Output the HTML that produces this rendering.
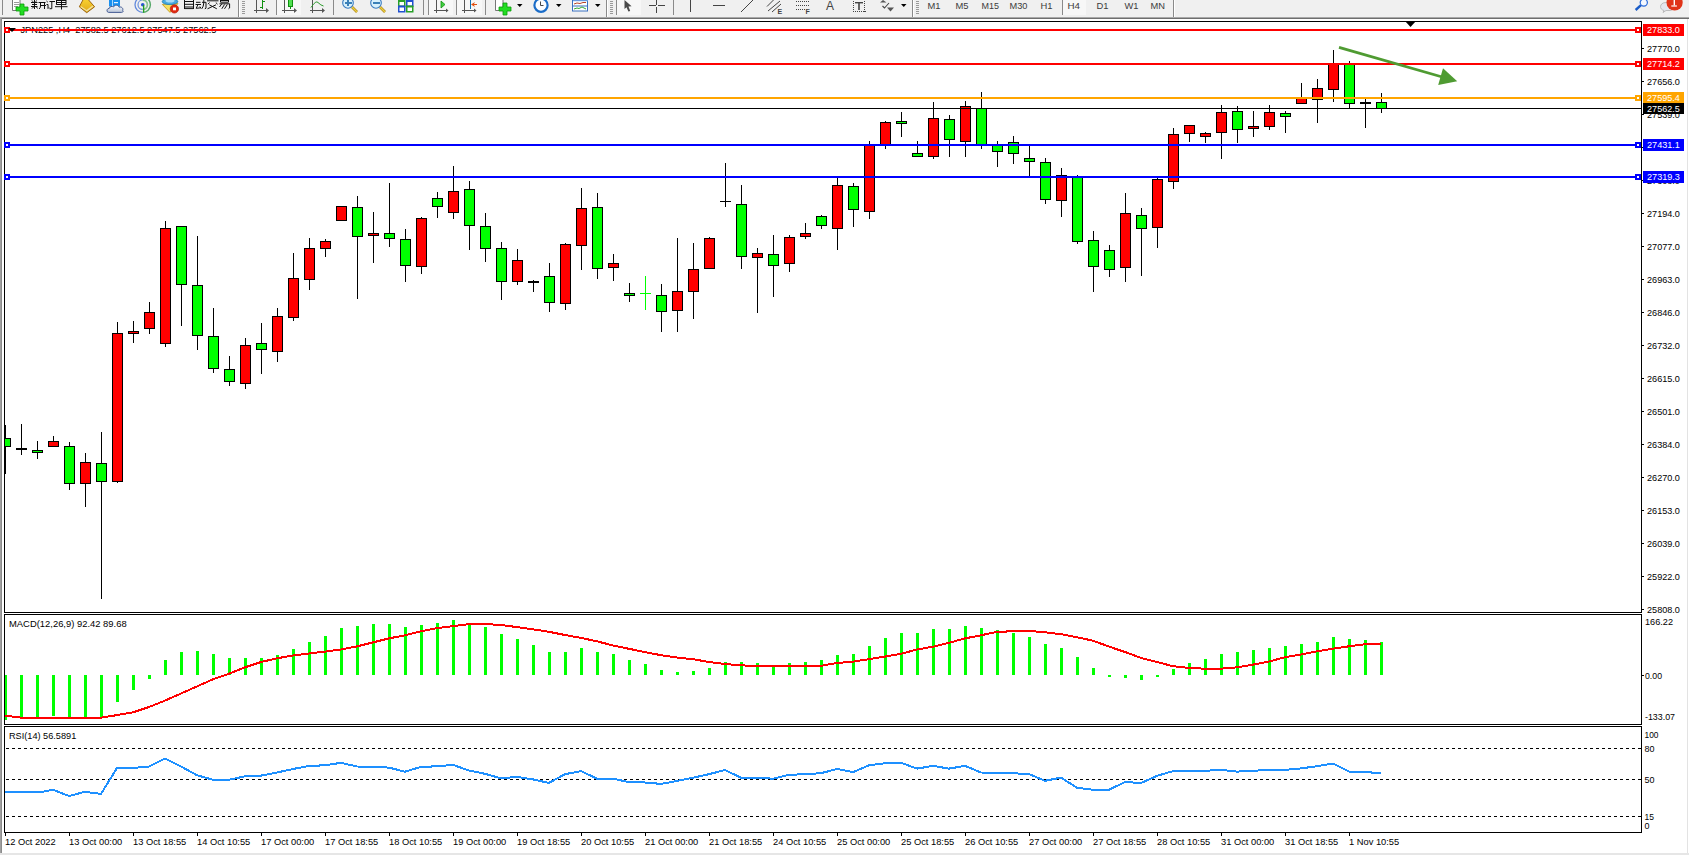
<!DOCTYPE html>
<html><head><meta charset="utf-8"><style>
html,body{margin:0;padding:0;background:#fff;overflow:hidden;width:1689px;height:855px}
svg{display:block}
</style></head><body>
<svg width="1689" height="855" viewBox="0 0 1689 855">
<rect x="0" y="0" width="1689" height="855" fill="#ffffff" />
<rect x="0" y="0" width="1689" height="17" fill="#f0f0f0" />
<rect x="0" y="17" width="1689" height="1" fill="#a8a8a8" />
<rect x="0" y="18" width="1689" height="1" fill="#6e6e6e" />
<rect x="0" y="18" width="1" height="837" fill="#a0a0a0" />
<rect x="1" y="18" width="1" height="837" fill="#8c8c8c" />
<rect x="1687" y="19" width="1" height="836" fill="#e3e3e3" />
<rect x="0" y="853" width="1689" height="2" fill="#e6e6e6" />
<rect x="4.5" y="21.5" width="1637" height="591" fill="none" stroke="#000" stroke-width="1"/>
<rect x="4.5" y="614.5" width="1637" height="110" fill="none" stroke="#000" stroke-width="1"/>
<rect x="4.5" y="726.5" width="1637" height="106" fill="none" stroke="#000" stroke-width="1"/>
<defs><clipPath id="cm"><rect x="5" y="22" width="1636" height="590"/></clipPath><clipPath id="cd"><rect x="5" y="615" width="1636" height="109"/></clipPath><clipPath id="cr"><rect x="5" y="727" width="1636" height="105"/></clipPath></defs>
<g clip-path="url(#cm)" shape-rendering="crispEdges">
<rect x="5" y="425" width="1" height="49" fill="#000"/><rect x="0" y="438" width="11" height="9" fill="#000"/><rect x="1" y="439" width="9" height="7" fill="#00ff00"/>
<rect x="21" y="424" width="1" height="31" fill="#000"/><rect x="16" y="448" width="11" height="2" fill="#000"/>
<rect x="37" y="441" width="1" height="18" fill="#000"/><rect x="32" y="450" width="11" height="3" fill="#000"/><rect x="33" y="451" width="9" height="1" fill="#00ff00"/>
<rect x="53" y="436" width="1" height="11" fill="#000"/><rect x="48" y="441" width="11" height="6" fill="#000"/><rect x="49" y="442" width="9" height="4" fill="#ff0000"/>
<rect x="69" y="442" width="1" height="48" fill="#000"/><rect x="64" y="446" width="11" height="38" fill="#000"/><rect x="65" y="447" width="9" height="36" fill="#00ff00"/>
<rect x="85" y="453" width="1" height="54" fill="#000"/><rect x="80" y="462" width="11" height="22" fill="#000"/><rect x="81" y="463" width="9" height="20" fill="#ff0000"/>
<rect x="101" y="432" width="1" height="167" fill="#000"/><rect x="96" y="463" width="11" height="19" fill="#000"/><rect x="97" y="464" width="9" height="17" fill="#00ff00"/>
<rect x="117" y="322" width="1" height="161" fill="#000"/><rect x="112" y="333" width="11" height="149" fill="#000"/><rect x="113" y="334" width="9" height="147" fill="#ff0000"/>
<rect x="133" y="321" width="1" height="22" fill="#000"/><rect x="128" y="331" width="11" height="3" fill="#000"/><rect x="129" y="332" width="9" height="1" fill="#ff0000"/>
<rect x="149" y="302" width="1" height="32" fill="#000"/><rect x="144" y="312" width="11" height="17" fill="#000"/><rect x="145" y="313" width="9" height="15" fill="#ff0000"/>
<rect x="165" y="221" width="1" height="126" fill="#000"/><rect x="160" y="228" width="11" height="116" fill="#000"/><rect x="161" y="229" width="9" height="114" fill="#ff0000"/>
<rect x="181" y="226" width="1" height="100" fill="#000"/><rect x="176" y="226" width="11" height="59" fill="#000"/><rect x="177" y="227" width="9" height="57" fill="#00ff00"/>
<rect x="197" y="236" width="1" height="114" fill="#000"/><rect x="192" y="285" width="11" height="51" fill="#000"/><rect x="193" y="286" width="9" height="49" fill="#00ff00"/>
<rect x="213" y="308" width="1" height="65" fill="#000"/><rect x="208" y="336" width="11" height="33" fill="#000"/><rect x="209" y="337" width="9" height="31" fill="#00ff00"/>
<rect x="229" y="356" width="1" height="30" fill="#000"/><rect x="224" y="369" width="11" height="13" fill="#000"/><rect x="225" y="370" width="9" height="11" fill="#00ff00"/>
<rect x="245" y="338" width="1" height="51" fill="#000"/><rect x="240" y="345" width="11" height="39" fill="#000"/><rect x="241" y="346" width="9" height="37" fill="#ff0000"/>
<rect x="261" y="323" width="1" height="51" fill="#000"/><rect x="256" y="343" width="11" height="7" fill="#000"/><rect x="257" y="344" width="9" height="5" fill="#00ff00"/>
<rect x="277" y="308" width="1" height="54" fill="#000"/><rect x="272" y="316" width="11" height="36" fill="#000"/><rect x="273" y="317" width="9" height="34" fill="#ff0000"/>
<rect x="293" y="253" width="1" height="68" fill="#000"/><rect x="288" y="278" width="11" height="40" fill="#000"/><rect x="289" y="279" width="9" height="38" fill="#ff0000"/>
<rect x="309" y="238" width="1" height="52" fill="#000"/><rect x="304" y="248" width="11" height="32" fill="#000"/><rect x="305" y="249" width="9" height="30" fill="#ff0000"/>
<rect x="325" y="239" width="1" height="18" fill="#000"/><rect x="320" y="241" width="11" height="8" fill="#000"/><rect x="321" y="242" width="9" height="6" fill="#ff0000"/>
<rect x="341" y="206" width="1" height="15" fill="#000"/><rect x="336" y="206" width="11" height="15" fill="#000"/><rect x="337" y="207" width="9" height="13" fill="#ff0000"/>
<rect x="357" y="196" width="1" height="103" fill="#000"/><rect x="352" y="207" width="11" height="30" fill="#000"/><rect x="353" y="208" width="9" height="28" fill="#00ff00"/>
<rect x="373" y="212" width="1" height="51" fill="#000"/><rect x="368" y="233" width="11" height="3" fill="#000"/><rect x="369" y="234" width="9" height="1" fill="#ff0000"/>
<rect x="389" y="183" width="1" height="64" fill="#000"/><rect x="384" y="233" width="11" height="6" fill="#000"/><rect x="385" y="234" width="9" height="4" fill="#00ff00"/>
<rect x="405" y="229" width="1" height="53" fill="#000"/><rect x="400" y="239" width="11" height="27" fill="#000"/><rect x="401" y="240" width="9" height="25" fill="#00ff00"/>
<rect x="421" y="217" width="1" height="57" fill="#000"/><rect x="416" y="218" width="11" height="49" fill="#000"/><rect x="417" y="219" width="9" height="47" fill="#ff0000"/>
<rect x="437" y="192" width="1" height="26" fill="#000"/><rect x="432" y="198" width="11" height="9" fill="#000"/><rect x="433" y="199" width="9" height="7" fill="#00ff00"/>
<rect x="453" y="166" width="1" height="53" fill="#000"/><rect x="448" y="191" width="11" height="22" fill="#000"/><rect x="449" y="192" width="9" height="20" fill="#ff0000"/>
<rect x="469" y="181" width="1" height="69" fill="#000"/><rect x="464" y="189" width="11" height="37" fill="#000"/><rect x="465" y="190" width="9" height="35" fill="#00ff00"/>
<rect x="485" y="213" width="1" height="49" fill="#000"/><rect x="480" y="226" width="11" height="23" fill="#000"/><rect x="481" y="227" width="9" height="21" fill="#00ff00"/>
<rect x="501" y="242" width="1" height="58" fill="#000"/><rect x="496" y="248" width="11" height="34" fill="#000"/><rect x="497" y="249" width="9" height="32" fill="#00ff00"/>
<rect x="517" y="249" width="1" height="36" fill="#000"/><rect x="512" y="260" width="11" height="22" fill="#000"/><rect x="513" y="261" width="9" height="20" fill="#ff0000"/>
<rect x="533" y="280" width="1" height="12" fill="#000"/><rect x="528" y="281" width="11" height="2" fill="#000"/>
<rect x="549" y="263" width="1" height="49" fill="#000"/><rect x="544" y="276" width="11" height="27" fill="#000"/><rect x="545" y="277" width="9" height="25" fill="#00ff00"/>
<rect x="565" y="243" width="1" height="67" fill="#000"/><rect x="560" y="244" width="11" height="60" fill="#000"/><rect x="561" y="245" width="9" height="58" fill="#ff0000"/>
<rect x="581" y="188" width="1" height="82" fill="#000"/><rect x="576" y="208" width="11" height="38" fill="#000"/><rect x="577" y="209" width="9" height="36" fill="#ff0000"/>
<rect x="597" y="193" width="1" height="86" fill="#000"/><rect x="592" y="207" width="11" height="62" fill="#000"/><rect x="593" y="208" width="9" height="60" fill="#00ff00"/>
<rect x="613" y="254" width="1" height="27" fill="#000"/><rect x="608" y="263" width="11" height="5" fill="#000"/><rect x="609" y="264" width="9" height="3" fill="#ff0000"/>
<rect x="629" y="283" width="1" height="19" fill="#000"/><rect x="624" y="293" width="11" height="3" fill="#000"/><rect x="625" y="294" width="9" height="1" fill="#00ff00"/>
<rect x="645" y="276" width="1" height="34" fill="#00ff00"/><rect x="640" y="293" width="11" height="1" fill="#00ff00"/>
<rect x="661" y="284" width="1" height="48" fill="#000"/><rect x="656" y="295" width="11" height="17" fill="#000"/><rect x="657" y="296" width="9" height="15" fill="#00ff00"/>
<rect x="677" y="238" width="1" height="94" fill="#000"/><rect x="672" y="291" width="11" height="20" fill="#000"/><rect x="673" y="292" width="9" height="18" fill="#ff0000"/>
<rect x="693" y="243" width="1" height="76" fill="#000"/><rect x="688" y="269" width="11" height="23" fill="#000"/><rect x="689" y="270" width="9" height="21" fill="#ff0000"/>
<rect x="709" y="237" width="1" height="32" fill="#000"/><rect x="704" y="238" width="11" height="31" fill="#000"/><rect x="705" y="239" width="9" height="29" fill="#ff0000"/>
<rect x="725" y="163" width="1" height="44" fill="#000"/><rect x="720" y="201" width="11" height="1" fill="#000"/>
<rect x="741" y="185" width="1" height="84" fill="#000"/><rect x="736" y="204" width="11" height="53" fill="#000"/><rect x="737" y="205" width="9" height="51" fill="#00ff00"/>
<rect x="757" y="248" width="1" height="65" fill="#000"/><rect x="752" y="253" width="11" height="5" fill="#000"/><rect x="753" y="254" width="9" height="3" fill="#ff0000"/>
<rect x="773" y="235" width="1" height="62" fill="#000"/><rect x="768" y="254" width="11" height="12" fill="#000"/><rect x="769" y="255" width="9" height="10" fill="#00ff00"/>
<rect x="789" y="235" width="1" height="37" fill="#000"/><rect x="784" y="237" width="11" height="27" fill="#000"/><rect x="785" y="238" width="9" height="25" fill="#ff0000"/>
<rect x="805" y="223" width="1" height="16" fill="#000"/><rect x="800" y="233" width="11" height="4" fill="#000"/><rect x="801" y="234" width="9" height="2" fill="#ff0000"/>
<rect x="821" y="215" width="1" height="14" fill="#000"/><rect x="816" y="216" width="11" height="10" fill="#000"/><rect x="817" y="217" width="9" height="8" fill="#00ff00"/>
<rect x="837" y="177" width="1" height="73" fill="#000"/><rect x="832" y="185" width="11" height="44" fill="#000"/><rect x="833" y="186" width="9" height="42" fill="#ff0000"/>
<rect x="853" y="183" width="1" height="44" fill="#000"/><rect x="848" y="186" width="11" height="24" fill="#000"/><rect x="849" y="187" width="9" height="22" fill="#00ff00"/>
<rect x="869" y="141" width="1" height="78" fill="#000"/><rect x="864" y="145" width="11" height="67" fill="#000"/><rect x="865" y="146" width="9" height="65" fill="#ff0000"/>
<rect x="885" y="121" width="1" height="28" fill="#000"/><rect x="880" y="122" width="11" height="23" fill="#000"/><rect x="881" y="123" width="9" height="21" fill="#ff0000"/>
<rect x="901" y="112" width="1" height="25" fill="#000"/><rect x="896" y="121" width="11" height="3" fill="#000"/><rect x="897" y="122" width="9" height="1" fill="#00ff00"/>
<rect x="917" y="141" width="1" height="16" fill="#000"/><rect x="912" y="153" width="11" height="4" fill="#000"/><rect x="913" y="154" width="9" height="2" fill="#00ff00"/>
<rect x="933" y="102" width="1" height="57" fill="#000"/><rect x="928" y="118" width="11" height="39" fill="#000"/><rect x="929" y="119" width="9" height="37" fill="#ff0000"/>
<rect x="949" y="115" width="1" height="42" fill="#000"/><rect x="944" y="119" width="11" height="21" fill="#000"/><rect x="945" y="120" width="9" height="19" fill="#00ff00"/>
<rect x="965" y="101" width="1" height="56" fill="#000"/><rect x="960" y="106" width="11" height="36" fill="#000"/><rect x="961" y="107" width="9" height="34" fill="#ff0000"/>
<rect x="981" y="92" width="1" height="57" fill="#000"/><rect x="976" y="108" width="11" height="37" fill="#000"/><rect x="977" y="109" width="9" height="35" fill="#00ff00"/>
<rect x="997" y="141" width="1" height="26" fill="#000"/><rect x="992" y="145" width="11" height="7" fill="#000"/><rect x="993" y="146" width="9" height="5" fill="#00ff00"/>
<rect x="1013" y="136" width="1" height="28" fill="#000"/><rect x="1008" y="142" width="11" height="12" fill="#000"/><rect x="1009" y="143" width="9" height="10" fill="#00ff00"/>
<rect x="1029" y="145" width="1" height="31" fill="#000"/><rect x="1024" y="158" width="11" height="4" fill="#000"/><rect x="1025" y="159" width="9" height="2" fill="#00ff00"/>
<rect x="1045" y="158" width="1" height="46" fill="#000"/><rect x="1040" y="162" width="11" height="38" fill="#000"/><rect x="1041" y="163" width="9" height="36" fill="#00ff00"/>
<rect x="1061" y="168" width="1" height="49" fill="#000"/><rect x="1056" y="175" width="11" height="26" fill="#000"/><rect x="1057" y="176" width="9" height="24" fill="#ff0000"/>
<rect x="1077" y="175" width="1" height="69" fill="#000"/><rect x="1072" y="176" width="11" height="66" fill="#000"/><rect x="1073" y="177" width="9" height="64" fill="#00ff00"/>
<rect x="1093" y="231" width="1" height="61" fill="#000"/><rect x="1088" y="240" width="11" height="27" fill="#000"/><rect x="1089" y="241" width="9" height="25" fill="#00ff00"/>
<rect x="1109" y="245" width="1" height="32" fill="#000"/><rect x="1104" y="250" width="11" height="20" fill="#000"/><rect x="1105" y="251" width="9" height="18" fill="#00ff00"/>
<rect x="1125" y="193" width="1" height="89" fill="#000"/><rect x="1120" y="213" width="11" height="55" fill="#000"/><rect x="1121" y="214" width="9" height="53" fill="#ff0000"/>
<rect x="1141" y="208" width="1" height="68" fill="#000"/><rect x="1136" y="215" width="11" height="14" fill="#000"/><rect x="1137" y="216" width="9" height="12" fill="#00ff00"/>
<rect x="1157" y="178" width="1" height="70" fill="#000"/><rect x="1152" y="179" width="11" height="49" fill="#000"/><rect x="1153" y="180" width="9" height="47" fill="#ff0000"/>
<rect x="1173" y="128" width="1" height="61" fill="#000"/><rect x="1168" y="134" width="11" height="48" fill="#000"/><rect x="1169" y="135" width="9" height="46" fill="#ff0000"/>
<rect x="1189" y="125" width="1" height="17" fill="#000"/><rect x="1184" y="125" width="11" height="9" fill="#000"/><rect x="1185" y="126" width="9" height="7" fill="#ff0000"/>
<rect x="1205" y="132" width="1" height="11" fill="#000"/><rect x="1200" y="133" width="11" height="4" fill="#000"/><rect x="1201" y="134" width="9" height="2" fill="#ff0000"/>
<rect x="1221" y="105" width="1" height="54" fill="#000"/><rect x="1216" y="112" width="11" height="21" fill="#000"/><rect x="1217" y="113" width="9" height="19" fill="#ff0000"/>
<rect x="1237" y="106" width="1" height="37" fill="#000"/><rect x="1232" y="111" width="11" height="19" fill="#000"/><rect x="1233" y="112" width="9" height="17" fill="#00ff00"/>
<rect x="1253" y="111" width="1" height="26" fill="#000"/><rect x="1248" y="126" width="11" height="3" fill="#000"/><rect x="1249" y="127" width="9" height="1" fill="#ff0000"/>
<rect x="1269" y="105" width="1" height="25" fill="#000"/><rect x="1264" y="112" width="11" height="15" fill="#000"/><rect x="1265" y="113" width="9" height="13" fill="#ff0000"/>
<rect x="1285" y="111" width="1" height="22" fill="#000"/><rect x="1280" y="113" width="11" height="4" fill="#000"/><rect x="1281" y="114" width="9" height="2" fill="#00ff00"/>
<rect x="1301" y="83" width="1" height="21" fill="#000"/><rect x="1296" y="98" width="11" height="6" fill="#000"/><rect x="1297" y="99" width="9" height="4" fill="#ff0000"/>
<rect x="1317" y="79" width="1" height="44" fill="#000"/><rect x="1312" y="88" width="11" height="12" fill="#000"/><rect x="1313" y="89" width="9" height="10" fill="#ff0000"/>
<rect x="1333" y="50" width="1" height="52" fill="#000"/><rect x="1328" y="64" width="11" height="26" fill="#000"/><rect x="1329" y="65" width="9" height="24" fill="#ff0000"/>
<rect x="1349" y="61" width="1" height="47" fill="#000"/><rect x="1344" y="64" width="11" height="40" fill="#000"/><rect x="1345" y="65" width="9" height="38" fill="#00ff00"/>
<rect x="1365" y="99" width="1" height="29" fill="#000"/><rect x="1360" y="102" width="11" height="2" fill="#000"/>
<rect x="1381" y="93" width="1" height="20" fill="#000"/><rect x="1376" y="102" width="11" height="7" fill="#000"/><rect x="1377" y="103" width="9" height="5" fill="#00ff00"/>
<rect x="5" y="108" width="1636" height="1" fill="#000" />
</g>
<g shape-rendering="crispEdges">
<rect x="5" y="29" width="1636" height="2" fill="#ff0000" />
<rect x="4" y="27" width="6" height="6" fill="#ff0000" />
<rect x="6" y="29" width="2" height="2" fill="#fff" />
<rect x="1635" y="27" width="6" height="6" fill="#ff0000" />
<rect x="1637" y="29" width="2" height="2" fill="#fff" />
<rect x="5" y="63" width="1636" height="2" fill="#ff0000" />
<rect x="4" y="61" width="6" height="6" fill="#ff0000" />
<rect x="6" y="63" width="2" height="2" fill="#fff" />
<rect x="1635" y="61" width="6" height="6" fill="#ff0000" />
<rect x="1637" y="63" width="2" height="2" fill="#fff" />
<rect x="5" y="97" width="1636" height="2" fill="#ffa500" />
<rect x="4" y="95" width="6" height="6" fill="#ffa500" />
<rect x="6" y="97" width="2" height="2" fill="#fff" />
<rect x="1635" y="95" width="6" height="6" fill="#ffa500" />
<rect x="1637" y="97" width="2" height="2" fill="#fff" />
<rect x="5" y="144" width="1636" height="2" fill="#0000ff" />
<rect x="4" y="142" width="6" height="6" fill="#0000ff" />
<rect x="6" y="144" width="2" height="2" fill="#fff" />
<rect x="1635" y="142" width="6" height="6" fill="#0000ff" />
<rect x="1637" y="144" width="2" height="2" fill="#fff" />
<rect x="5" y="176" width="1636" height="2" fill="#0000ff" />
<rect x="4" y="174" width="6" height="6" fill="#0000ff" />
<rect x="6" y="176" width="2" height="2" fill="#fff" />
<rect x="1635" y="174" width="6" height="6" fill="#0000ff" />
<rect x="1637" y="176" width="2" height="2" fill="#fff" />
</g>
<polygon points="1405,21 1416,21 1410.5,27" fill="#000"/>
<line x1="1339" y1="47.3" x2="1444" y2="77.5" stroke="#4f9b32" stroke-width="2.8"/>
<polygon points="1443,68.2 1438.2,84.9 1457.2,81.2" fill="#4f9b32"/>
<text x="20.5" y="33" font-family="Liberation Sans, sans-serif" font-size="9.8" fill="#000" textLength="195.85" lengthAdjust="spacingAndGlyphs" >JPN225&#160;,H4&#160;&#160;27582.5&#160;27612.5&#160;27547.5&#160;27562.5</text>
<g shape-rendering="crispEdges">
<rect x="5" y="29" width="300" height="2" fill="#ff0000" />
<rect x="4" y="27" width="6" height="6" fill="#ff0000" />
<rect x="6" y="29" width="2" height="2" fill="#fff" />
</g>
<polygon points="8,28 16,28 12,32" fill="#000"/>
<g shape-rendering="crispEdges">
<rect x="1642" y="48" width="2" height="1" fill="#000" />
<rect x="1642" y="81" width="2" height="1" fill="#000" />
<rect x="1642" y="114" width="2" height="1" fill="#000" />
<rect x="1642" y="147" width="2" height="1" fill="#000" />
<rect x="1642" y="180" width="2" height="1" fill="#000" />
<rect x="1642" y="213" width="2" height="1" fill="#000" />
<rect x="1642" y="246" width="2" height="1" fill="#000" />
<rect x="1642" y="279" width="2" height="1" fill="#000" />
<rect x="1642" y="312" width="2" height="1" fill="#000" />
<rect x="1642" y="345" width="2" height="1" fill="#000" />
<rect x="1642" y="378" width="2" height="1" fill="#000" />
<rect x="1642" y="411" width="2" height="1" fill="#000" />
<rect x="1642" y="444" width="2" height="1" fill="#000" />
<rect x="1642" y="477" width="2" height="1" fill="#000" />
<rect x="1642" y="510" width="2" height="1" fill="#000" />
<rect x="1642" y="543" width="2" height="1" fill="#000" />
<rect x="1642" y="576" width="2" height="1" fill="#000" />
<rect x="1642" y="609" width="2" height="1" fill="#000" />
</g>
<text x="1647" y="51.6" font-family="Liberation Sans, sans-serif" font-size="9.8" fill="#000" textLength="32.94" lengthAdjust="spacingAndGlyphs" >27770.0</text>
<text x="1647" y="84.6" font-family="Liberation Sans, sans-serif" font-size="9.8" fill="#000" textLength="32.94" lengthAdjust="spacingAndGlyphs" >27656.0</text>
<text x="1647" y="117.6" font-family="Liberation Sans, sans-serif" font-size="9.8" fill="#000" textLength="32.94" lengthAdjust="spacingAndGlyphs" >27539.0</text>
<text x="1647" y="150.6" font-family="Liberation Sans, sans-serif" font-size="9.8" fill="#000" textLength="32.94" lengthAdjust="spacingAndGlyphs" >27425.0</text>
<text x="1647" y="183.6" font-family="Liberation Sans, sans-serif" font-size="9.8" fill="#000" textLength="32.94" lengthAdjust="spacingAndGlyphs" >27308.0</text>
<text x="1647" y="216.6" font-family="Liberation Sans, sans-serif" font-size="9.8" fill="#000" textLength="32.94" lengthAdjust="spacingAndGlyphs" >27194.0</text>
<text x="1647" y="249.6" font-family="Liberation Sans, sans-serif" font-size="9.8" fill="#000" textLength="32.94" lengthAdjust="spacingAndGlyphs" >27077.0</text>
<text x="1647" y="282.6" font-family="Liberation Sans, sans-serif" font-size="9.8" fill="#000" textLength="32.94" lengthAdjust="spacingAndGlyphs" >26963.0</text>
<text x="1647" y="315.6" font-family="Liberation Sans, sans-serif" font-size="9.8" fill="#000" textLength="32.94" lengthAdjust="spacingAndGlyphs" >26846.0</text>
<text x="1647" y="348.6" font-family="Liberation Sans, sans-serif" font-size="9.8" fill="#000" textLength="32.94" lengthAdjust="spacingAndGlyphs" >26732.0</text>
<text x="1647" y="381.6" font-family="Liberation Sans, sans-serif" font-size="9.8" fill="#000" textLength="32.94" lengthAdjust="spacingAndGlyphs" >26615.0</text>
<text x="1647" y="414.6" font-family="Liberation Sans, sans-serif" font-size="9.8" fill="#000" textLength="32.94" lengthAdjust="spacingAndGlyphs" >26501.0</text>
<text x="1647" y="447.6" font-family="Liberation Sans, sans-serif" font-size="9.8" fill="#000" textLength="32.94" lengthAdjust="spacingAndGlyphs" >26384.0</text>
<text x="1647" y="480.6" font-family="Liberation Sans, sans-serif" font-size="9.8" fill="#000" textLength="32.94" lengthAdjust="spacingAndGlyphs" >26270.0</text>
<text x="1647" y="513.6" font-family="Liberation Sans, sans-serif" font-size="9.8" fill="#000" textLength="32.94" lengthAdjust="spacingAndGlyphs" >26153.0</text>
<text x="1647" y="546.6" font-family="Liberation Sans, sans-serif" font-size="9.8" fill="#000" textLength="32.94" lengthAdjust="spacingAndGlyphs" >26039.0</text>
<text x="1647" y="579.6" font-family="Liberation Sans, sans-serif" font-size="9.8" fill="#000" textLength="32.94" lengthAdjust="spacingAndGlyphs" >25922.0</text>
<text x="1647" y="612.6" font-family="Liberation Sans, sans-serif" font-size="9.8" fill="#000" textLength="32.94" lengthAdjust="spacingAndGlyphs" >25808.0</text>
<g shape-rendering="crispEdges">
<rect x="1643" y="24" width="41" height="12" fill="#ff0000" />
<rect x="1643" y="58" width="41" height="12" fill="#ff0000" />
<rect x="1643" y="92" width="41" height="12" fill="#ffa500" />
<rect x="1643" y="103" width="41" height="11" fill="#000000" />
<rect x="1643" y="139" width="41" height="12" fill="#0000ff" />
<rect x="1643" y="171" width="41" height="12" fill="#0000ff" />
</g>
<text x="1647" y="33.1" font-family="Liberation Sans, sans-serif" font-size="9.8" fill="#fff" textLength="32.94" lengthAdjust="spacingAndGlyphs" >27833.0</text>
<text x="1647" y="67.1" font-family="Liberation Sans, sans-serif" font-size="9.8" fill="#fff" textLength="32.94" lengthAdjust="spacingAndGlyphs" >27714.2</text>
<text x="1647" y="101.1" font-family="Liberation Sans, sans-serif" font-size="9.8" fill="#fff" textLength="32.94" lengthAdjust="spacingAndGlyphs" >27595.4</text>
<text x="1647" y="112.1" font-family="Liberation Sans, sans-serif" font-size="9.8" fill="#fff" textLength="32.94" lengthAdjust="spacingAndGlyphs" >27562.5</text>
<text x="1647" y="148.1" font-family="Liberation Sans, sans-serif" font-size="9.8" fill="#fff" textLength="32.94" lengthAdjust="spacingAndGlyphs" >27431.1</text>
<text x="1647" y="180.1" font-family="Liberation Sans, sans-serif" font-size="9.8" fill="#fff" textLength="32.94" lengthAdjust="spacingAndGlyphs" >27319.3</text>
<g clip-path="url(#cd)" shape-rendering="crispEdges">
<rect x="4" y="675" width="3" height="45" fill="#00ff00" />
<rect x="20" y="675" width="3" height="43" fill="#00ff00" />
<rect x="36" y="675" width="3" height="42" fill="#00ff00" />
<rect x="52" y="675" width="3" height="41" fill="#00ff00" />
<rect x="68" y="675" width="3" height="42" fill="#00ff00" />
<rect x="84" y="675" width="3" height="42" fill="#00ff00" />
<rect x="100" y="675" width="3" height="42" fill="#00ff00" />
<rect x="116" y="675" width="3" height="27" fill="#00ff00" />
<rect x="132" y="675" width="3" height="15" fill="#00ff00" />
<rect x="148" y="675" width="3" height="4" fill="#00ff00" />
<rect x="164" y="660" width="3" height="15" fill="#00ff00" />
<rect x="180" y="652" width="3" height="23" fill="#00ff00" />
<rect x="196" y="651" width="3" height="24" fill="#00ff00" />
<rect x="212" y="654" width="3" height="21" fill="#00ff00" />
<rect x="228" y="658" width="3" height="17" fill="#00ff00" />
<rect x="244" y="658" width="3" height="17" fill="#00ff00" />
<rect x="260" y="658" width="3" height="17" fill="#00ff00" />
<rect x="276" y="655" width="3" height="20" fill="#00ff00" />
<rect x="292" y="649" width="3" height="26" fill="#00ff00" />
<rect x="308" y="642" width="3" height="33" fill="#00ff00" />
<rect x="324" y="636" width="3" height="39" fill="#00ff00" />
<rect x="340" y="628" width="3" height="47" fill="#00ff00" />
<rect x="356" y="626" width="3" height="49" fill="#00ff00" />
<rect x="372" y="624" width="3" height="51" fill="#00ff00" />
<rect x="388" y="624" width="3" height="51" fill="#00ff00" />
<rect x="404" y="627" width="3" height="48" fill="#00ff00" />
<rect x="420" y="625" width="3" height="50" fill="#00ff00" />
<rect x="436" y="623" width="3" height="52" fill="#00ff00" />
<rect x="452" y="620" width="3" height="55" fill="#00ff00" />
<rect x="468" y="623" width="3" height="52" fill="#00ff00" />
<rect x="484" y="627" width="3" height="48" fill="#00ff00" />
<rect x="500" y="634" width="3" height="41" fill="#00ff00" />
<rect x="516" y="639" width="3" height="36" fill="#00ff00" />
<rect x="532" y="645" width="3" height="30" fill="#00ff00" />
<rect x="548" y="652" width="3" height="23" fill="#00ff00" />
<rect x="564" y="652" width="3" height="23" fill="#00ff00" />
<rect x="580" y="648" width="3" height="27" fill="#00ff00" />
<rect x="596" y="652" width="3" height="23" fill="#00ff00" />
<rect x="612" y="654" width="3" height="21" fill="#00ff00" />
<rect x="628" y="660" width="3" height="15" fill="#00ff00" />
<rect x="644" y="664" width="3" height="11" fill="#00ff00" />
<rect x="660" y="670" width="3" height="5" fill="#00ff00" />
<rect x="676" y="672" width="3" height="3" fill="#00ff00" />
<rect x="692" y="671" width="3" height="4" fill="#00ff00" />
<rect x="708" y="668" width="3" height="7" fill="#00ff00" />
<rect x="724" y="662" width="3" height="13" fill="#00ff00" />
<rect x="740" y="662" width="3" height="13" fill="#00ff00" />
<rect x="756" y="663" width="3" height="12" fill="#00ff00" />
<rect x="772" y="666" width="3" height="9" fill="#00ff00" />
<rect x="788" y="663" width="3" height="12" fill="#00ff00" />
<rect x="804" y="662" width="3" height="13" fill="#00ff00" />
<rect x="820" y="660" width="3" height="15" fill="#00ff00" />
<rect x="836" y="655" width="3" height="20" fill="#00ff00" />
<rect x="852" y="654" width="3" height="21" fill="#00ff00" />
<rect x="868" y="646" width="3" height="29" fill="#00ff00" />
<rect x="884" y="638" width="3" height="37" fill="#00ff00" />
<rect x="900" y="633" width="3" height="42" fill="#00ff00" />
<rect x="916" y="633" width="3" height="42" fill="#00ff00" />
<rect x="932" y="629" width="3" height="46" fill="#00ff00" />
<rect x="948" y="629" width="3" height="46" fill="#00ff00" />
<rect x="964" y="626" width="3" height="49" fill="#00ff00" />
<rect x="980" y="628" width="3" height="47" fill="#00ff00" />
<rect x="996" y="630" width="3" height="45" fill="#00ff00" />
<rect x="1012" y="633" width="3" height="42" fill="#00ff00" />
<rect x="1028" y="637" width="3" height="38" fill="#00ff00" />
<rect x="1044" y="644" width="3" height="31" fill="#00ff00" />
<rect x="1060" y="648" width="3" height="27" fill="#00ff00" />
<rect x="1076" y="657" width="3" height="18" fill="#00ff00" />
<rect x="1092" y="668" width="3" height="7" fill="#00ff00" />
<rect x="1108" y="675" width="3" height="2" fill="#00ff00" />
<rect x="1124" y="675" width="3" height="3" fill="#00ff00" />
<rect x="1140" y="675" width="3" height="5" fill="#00ff00" />
<rect x="1156" y="675" width="3" height="2" fill="#00ff00" />
<rect x="1172" y="669" width="3" height="6" fill="#00ff00" />
<rect x="1188" y="663" width="3" height="12" fill="#00ff00" />
<rect x="1204" y="659" width="3" height="16" fill="#00ff00" />
<rect x="1220" y="654" width="3" height="21" fill="#00ff00" />
<rect x="1236" y="652" width="3" height="23" fill="#00ff00" />
<rect x="1252" y="650" width="3" height="25" fill="#00ff00" />
<rect x="1268" y="648" width="3" height="27" fill="#00ff00" />
<rect x="1284" y="646" width="3" height="29" fill="#00ff00" />
<rect x="1300" y="644" width="3" height="31" fill="#00ff00" />
<rect x="1316" y="642" width="3" height="33" fill="#00ff00" />
<rect x="1332" y="637" width="3" height="38" fill="#00ff00" />
<rect x="1348" y="639" width="3" height="36" fill="#00ff00" />
<rect x="1364" y="640" width="3" height="35" fill="#00ff00" />
<rect x="1380" y="642" width="3" height="33" fill="#00ff00" />
</g>
<g clip-path="url(#cd)"><polyline points="0,715.6 13,716.6 21,717.7 101,717.7 117,715.1 133,712.3 149,707 165,700.6 181,693.5 197,686.4 213,679.3 229,673.7 245,667.3 261,662 277,658.3 293,655.5 309,653.5 325,651.6 341,649.5 357,646.4 373,642.4 389,638.4 405,635.3 421,631.3 437,628.2 453,626.1 469,624.2 485,624 501,625 517,627.1 533,629.3 549,631.8 565,635 581,637.9 597,641.3 613,645.5 629,648.8 645,652.1 661,655.2 677,657.5 693,659.2 709,662 725,664 741,665.4 757,665.8 821,665.8 837,663 853,661.6 869,659.2 885,656.6 901,653.8 917,649.5 933,646.7 949,642.8 965,638.4 981,635.3 997,631.8 1013,631.3 1029,631 1045,632.2 1061,634.2 1077,637.2 1093,640.7 1109,646.6 1125,652 1141,657.9 1157,662 1173,666.2 1189,668 1205,668.7 1221,668.7 1237,667.3 1253,664.6 1269,661.6 1285,657.2 1301,654.5 1317,651.3 1333,648.6 1349,646.3 1365,644.2 1381,643.8" fill="none" stroke="#ff0000" stroke-width="2" stroke-linejoin="round" shape-rendering="crispEdges"/></g>
<text x="9" y="627.3" font-family="Liberation Sans, sans-serif" font-size="9.8" fill="#000" textLength="117.66" lengthAdjust="spacingAndGlyphs" >MACD(12,26,9)&#160;92.42&#160;89.68</text>
<g shape-rendering="crispEdges">
<rect x="1642" y="675" width="2" height="1" fill="#000" />
</g>
<text x="1645" y="625.1" font-family="Liberation Sans, sans-serif" font-size="9.8" fill="#000" textLength="28.00" lengthAdjust="spacingAndGlyphs" >166.22</text>
<text x="1645" y="679.1" font-family="Liberation Sans, sans-serif" font-size="9.8" fill="#000" textLength="17.00" lengthAdjust="spacingAndGlyphs" >0.00</text>
<text x="1645" y="720.1" font-family="Liberation Sans, sans-serif" font-size="9.8" fill="#000" textLength="30.00" lengthAdjust="spacingAndGlyphs" >-133.07</text>
<g shape-rendering="crispEdges">
<line x1="6" y1="748.5" x2="1641" y2="748.5" stroke="#000" stroke-width="1" stroke-dasharray="3,3"/>
<line x1="6" y1="779.5" x2="1641" y2="779.5" stroke="#000" stroke-width="1" stroke-dasharray="3,3"/>
<line x1="6" y1="816.5" x2="1641" y2="816.5" stroke="#000" stroke-width="1" stroke-dasharray="3,3"/>
</g>
<g clip-path="url(#cr)"><polyline points="5,791.8 21,791.8 37,791.8 43,791.8 53,789.7 69,796 85,791.8 101,793.9 117,768 133,768 149,766.5 165,758.6 181,766.5 197,775.2 213,779.8 229,779.8 245,776.3 261,775.6 277,772.5 293,769 309,765.9 325,765.3 341,762.8 357,766.5 373,766.9 389,767.6 405,771.7 421,766.9 437,766.3 453,764.9 469,770.5 485,773.8 501,778.3 517,776.9 533,779.4 549,782.9 565,774.2 581,771.1 597,778.7 613,778.7 629,782.1 645,782.5 661,783.9 677,781 693,777.7 709,774.2 725,770 741,777.7 757,777.7 773,778.7 789,774.8 805,774.2 821,773.2 837,769 853,772.1 869,765.3 885,763.2 901,762.8 917,768.6 933,765.9 949,768.6 965,765.9 981,772.5 997,772.8 1013,773.3 1029,774 1045,780.8 1061,777.6 1077,787.8 1093,789.8 1109,789.8 1125,782 1141,783 1157,775.9 1173,771.1 1189,770.8 1205,770.8 1221,769.9 1237,771.6 1253,770.8 1269,769.9 1285,769.9 1301,768.4 1317,766.2 1333,763.5 1349,771.6 1365,772.3 1381,772.8" fill="none" stroke="#1e90ff" stroke-width="2" stroke-linejoin="round" shape-rendering="crispEdges"/></g>
<text x="9" y="739.3" font-family="Liberation Sans, sans-serif" font-size="9.8" fill="#000" textLength="67.23" lengthAdjust="spacingAndGlyphs" >RSI(14)&#160;56.5891</text>
<text x="1644.5" y="738.1" font-family="Liberation Sans, sans-serif" font-size="9.8" fill="#000" textLength="14.00" lengthAdjust="spacingAndGlyphs" >100</text>
<text x="1644.5" y="752.1" font-family="Liberation Sans, sans-serif" font-size="9.8" fill="#000" textLength="10.00" lengthAdjust="spacingAndGlyphs" >80</text>
<text x="1644.5" y="783.1" font-family="Liberation Sans, sans-serif" font-size="9.8" fill="#000" textLength="10.00" lengthAdjust="spacingAndGlyphs" >50</text>
<text x="1644.5" y="820.1" font-family="Liberation Sans, sans-serif" font-size="9.8" fill="#000" textLength="9.50" lengthAdjust="spacingAndGlyphs" >15</text>
<text x="1644.5" y="829.1" font-family="Liberation Sans, sans-serif" font-size="9.8" fill="#000" textLength="5.00" lengthAdjust="spacingAndGlyphs" >0</text>
<g shape-rendering="crispEdges">
<rect x="5" y="833" width="1" height="3" fill="#000" />
<rect x="69" y="833" width="1" height="3" fill="#000" />
<rect x="133" y="833" width="1" height="3" fill="#000" />
<rect x="197" y="833" width="1" height="3" fill="#000" />
<rect x="261" y="833" width="1" height="3" fill="#000" />
<rect x="325" y="833" width="1" height="3" fill="#000" />
<rect x="389" y="833" width="1" height="3" fill="#000" />
<rect x="453" y="833" width="1" height="3" fill="#000" />
<rect x="517" y="833" width="1" height="3" fill="#000" />
<rect x="581" y="833" width="1" height="3" fill="#000" />
<rect x="645" y="833" width="1" height="3" fill="#000" />
<rect x="709" y="833" width="1" height="3" fill="#000" />
<rect x="773" y="833" width="1" height="3" fill="#000" />
<rect x="837" y="833" width="1" height="3" fill="#000" />
<rect x="901" y="833" width="1" height="3" fill="#000" />
<rect x="965" y="833" width="1" height="3" fill="#000" />
<rect x="1029" y="833" width="1" height="3" fill="#000" />
<rect x="1093" y="833" width="1" height="3" fill="#000" />
<rect x="1157" y="833" width="1" height="3" fill="#000" />
<rect x="1221" y="833" width="1" height="3" fill="#000" />
<rect x="1285" y="833" width="1" height="3" fill="#000" />
<rect x="1349" y="833" width="1" height="3" fill="#000" />
</g>
<text x="5" y="845.3" font-family="Liberation Sans, sans-serif" font-size="9.8" fill="#000" textLength="50.72" lengthAdjust="spacingAndGlyphs" >12&#160;Oct&#160;2022</text>
<text x="69" y="845.3" font-family="Liberation Sans, sans-serif" font-size="9.8" fill="#000" textLength="53.31" lengthAdjust="spacingAndGlyphs" >13&#160;Oct&#160;00:00</text>
<text x="133" y="845.3" font-family="Liberation Sans, sans-serif" font-size="9.8" fill="#000" textLength="53.31" lengthAdjust="spacingAndGlyphs" >13&#160;Oct&#160;18:55</text>
<text x="197" y="845.3" font-family="Liberation Sans, sans-serif" font-size="9.8" fill="#000" textLength="53.31" lengthAdjust="spacingAndGlyphs" >14&#160;Oct&#160;10:55</text>
<text x="261" y="845.3" font-family="Liberation Sans, sans-serif" font-size="9.8" fill="#000" textLength="53.31" lengthAdjust="spacingAndGlyphs" >17&#160;Oct&#160;00:00</text>
<text x="325" y="845.3" font-family="Liberation Sans, sans-serif" font-size="9.8" fill="#000" textLength="53.31" lengthAdjust="spacingAndGlyphs" >17&#160;Oct&#160;18:55</text>
<text x="389" y="845.3" font-family="Liberation Sans, sans-serif" font-size="9.8" fill="#000" textLength="53.31" lengthAdjust="spacingAndGlyphs" >18&#160;Oct&#160;10:55</text>
<text x="453" y="845.3" font-family="Liberation Sans, sans-serif" font-size="9.8" fill="#000" textLength="53.31" lengthAdjust="spacingAndGlyphs" >19&#160;Oct&#160;00:00</text>
<text x="517" y="845.3" font-family="Liberation Sans, sans-serif" font-size="9.8" fill="#000" textLength="53.31" lengthAdjust="spacingAndGlyphs" >19&#160;Oct&#160;18:55</text>
<text x="581" y="845.3" font-family="Liberation Sans, sans-serif" font-size="9.8" fill="#000" textLength="53.31" lengthAdjust="spacingAndGlyphs" >20&#160;Oct&#160;10:55</text>
<text x="645" y="845.3" font-family="Liberation Sans, sans-serif" font-size="9.8" fill="#000" textLength="53.31" lengthAdjust="spacingAndGlyphs" >21&#160;Oct&#160;00:00</text>
<text x="709" y="845.3" font-family="Liberation Sans, sans-serif" font-size="9.8" fill="#000" textLength="53.31" lengthAdjust="spacingAndGlyphs" >21&#160;Oct&#160;18:55</text>
<text x="773" y="845.3" font-family="Liberation Sans, sans-serif" font-size="9.8" fill="#000" textLength="53.31" lengthAdjust="spacingAndGlyphs" >24&#160;Oct&#160;10:55</text>
<text x="837" y="845.3" font-family="Liberation Sans, sans-serif" font-size="9.8" fill="#000" textLength="53.31" lengthAdjust="spacingAndGlyphs" >25&#160;Oct&#160;00:00</text>
<text x="901" y="845.3" font-family="Liberation Sans, sans-serif" font-size="9.8" fill="#000" textLength="53.31" lengthAdjust="spacingAndGlyphs" >25&#160;Oct&#160;18:55</text>
<text x="965" y="845.3" font-family="Liberation Sans, sans-serif" font-size="9.8" fill="#000" textLength="53.31" lengthAdjust="spacingAndGlyphs" >26&#160;Oct&#160;10:55</text>
<text x="1029" y="845.3" font-family="Liberation Sans, sans-serif" font-size="9.8" fill="#000" textLength="53.31" lengthAdjust="spacingAndGlyphs" >27&#160;Oct&#160;00:00</text>
<text x="1093" y="845.3" font-family="Liberation Sans, sans-serif" font-size="9.8" fill="#000" textLength="53.31" lengthAdjust="spacingAndGlyphs" >27&#160;Oct&#160;18:55</text>
<text x="1157" y="845.3" font-family="Liberation Sans, sans-serif" font-size="9.8" fill="#000" textLength="53.31" lengthAdjust="spacingAndGlyphs" >28&#160;Oct&#160;10:55</text>
<text x="1221" y="845.3" font-family="Liberation Sans, sans-serif" font-size="9.8" fill="#000" textLength="53.31" lengthAdjust="spacingAndGlyphs" >31&#160;Oct&#160;00:00</text>
<text x="1285" y="845.3" font-family="Liberation Sans, sans-serif" font-size="9.8" fill="#000" textLength="53.31" lengthAdjust="spacingAndGlyphs" >31&#160;Oct&#160;18:55</text>
<text x="1349" y="845.3" font-family="Liberation Sans, sans-serif" font-size="9.8" fill="#000" textLength="50.20" lengthAdjust="spacingAndGlyphs" >1&#160;Nov&#160;10:55</text>
<g><rect x="277" y="0" width="24" height="15" fill="#f7f7f7" /><rect x="429" y="0" width="24" height="15" fill="#f7f7f7" /><rect x="457" y="0" width="25" height="15" fill="#f7f7f7" /><rect x="617" y="0" width="24" height="15" fill="#f7f7f7" /><rect x="1063" y="0" width="23" height="15" fill="#f7f7f7" /><rect x="2" y="0" width="1" height="15" fill="#8a8a8a" /><rect x="276" y="0" width="1" height="15" fill="#8a8a8a" /><rect x="333" y="0" width="1" height="15" fill="#8a8a8a" /><rect x="423" y="0" width="1" height="15" fill="#8a8a8a" /><rect x="428" y="0" width="1" height="15" fill="#8a8a8a" /><rect x="456" y="0" width="1" height="15" fill="#8a8a8a" /><rect x="485" y="0" width="1" height="15" fill="#8a8a8a" /><rect x="616" y="0" width="1" height="15" fill="#8a8a8a" /><rect x="673" y="0" width="1" height="15" fill="#8a8a8a" /><rect x="1062" y="0" width="1" height="15" fill="#8a8a8a" /><rect x="238" y="0" width="1" height="17" fill="#8a8a8a" /><rect x="239" y="0" width="1" height="17" fill="#ffffff" /><rect x="606" y="0" width="1" height="17" fill="#8a8a8a" /><rect x="607" y="0" width="1" height="17" fill="#ffffff" /><rect x="912" y="0" width="1" height="17" fill="#8a8a8a" /><rect x="913" y="0" width="1" height="17" fill="#ffffff" /><rect x="1173" y="0" width="1" height="17" fill="#8a8a8a" /><rect x="1174" y="0" width="1" height="17" fill="#ffffff" /><rect x="242" y="1" width="3" height="1" fill="#9a9a9a" /><rect x="242" y="3" width="3" height="1" fill="#9a9a9a" /><rect x="242" y="5" width="3" height="1" fill="#9a9a9a" /><rect x="242" y="7" width="3" height="1" fill="#9a9a9a" /><rect x="242" y="9" width="3" height="1" fill="#9a9a9a" /><rect x="242" y="11" width="3" height="1" fill="#9a9a9a" /><rect x="242" y="13" width="3" height="1" fill="#9a9a9a" /><rect x="610" y="1" width="3" height="1" fill="#9a9a9a" /><rect x="610" y="3" width="3" height="1" fill="#9a9a9a" /><rect x="610" y="5" width="3" height="1" fill="#9a9a9a" /><rect x="610" y="7" width="3" height="1" fill="#9a9a9a" /><rect x="610" y="9" width="3" height="1" fill="#9a9a9a" /><rect x="610" y="11" width="3" height="1" fill="#9a9a9a" /><rect x="610" y="13" width="3" height="1" fill="#9a9a9a" /><rect x="916" y="1" width="3" height="1" fill="#9a9a9a" /><rect x="916" y="3" width="3" height="1" fill="#9a9a9a" /><rect x="916" y="5" width="3" height="1" fill="#9a9a9a" /><rect x="916" y="7" width="3" height="1" fill="#9a9a9a" /><rect x="916" y="9" width="3" height="1" fill="#9a9a9a" /><rect x="916" y="11" width="3" height="1" fill="#9a9a9a" /><rect x="916" y="13" width="3" height="1" fill="#9a9a9a" /><path d="M12.5,0 V10.5 H20 V0" fill="#fff" stroke="#777" stroke-width="1"/><rect x="14" y="2" width="5" height="1" fill="#9a9a9a" /><rect x="14" y="4" width="5" height="1" fill="#9a9a9a" /><rect x="14" y="6" width="4" height="1" fill="#9a9a9a" /><path d="M20,4 h4 v3 h4 v4 h-4 v4 h-4 v-4 h-4 v-4 h4 z" fill="#22dd22" stroke="#0a9a0a" stroke-width="0.8"/><path d="M31,2.5 H37.5 M32,4.5 H37 M31,6.5 H37.5 M34.5,0 V9 M32,8.5 L33.5,7 M36.5,7 L37.5,8.5 M32,0.5 L33,1.8 M36.5,0.5 L35.8,1.8" fill="none" stroke="#101010" stroke-width="1.0"/><path d="M38.5,2.5 H45.5 M40.5,2.5 V6 Q40.5,8 39,9 M44.5,2.5 V9 M41,5.5 H46" fill="none" stroke="#101010" stroke-width="1.0"/><path d="M46.5,1 L47.8,2.2 M46.5,4.5 H48 V8.5 L49,7.5" fill="none" stroke="#101010" stroke-width="1.0"/><path d="M49.5,1.5 H55 M51.8,1.5 V8.7 H49.5" fill="none" stroke="#101010" stroke-width="1.0"/><path d="M56.5,0 V4.7 M66,0 V4.7 M56.5,0.5 H66 M56.5,2.5 H66 M56.5,4.5 H66 M55,6.7 H67.5 M61.5,0 V9.5" fill="none" stroke="#101010" stroke-width="1.0"/><path d="M184.5,0 V9 M193.5,0 V9 M184.5,1.5 H193.5 M184.5,4.3 H193.5 M184.5,7 H193.5 M184.5,8.6 H193.5" fill="none" stroke="#101010" stroke-width="1.0"/><path d="M196,2.3 H200.5 M195.5,4.5 H201 M198,4.5 L196.2,8.3 L200.8,7.8 M199.8,6.5 L201,8.4" fill="none" stroke="#101010" stroke-width="1.0"/><path d="M202,2.3 H206 V8.2 L204.8,8.8 M203.8,0 V3 Q203.6,6.5 201.8,8.8" fill="none" stroke="#101010" stroke-width="1.0"/><path d="M207,0.8 H218.5 M209.5,2.5 L208,4.2 M215.8,2.5 L217.5,4.2 M209.3,4.8 L216.8,8.8 M216,4.8 L207.5,8.8" fill="none" stroke="#101010" stroke-width="1.0"/><path d="M220.5,0 V2.2 M228.5,0 V2.2 M220.5,0.5 H228.5 M220.5,2.2 H228.5 M219.5,3.8 H229.6 V8 L228.5,8.8 M221.8,3.8 L219.5,7 M224.5,4.5 L221.8,8.8 M227.3,4.5 L224.5,8.8" fill="none" stroke="#101010" stroke-width="1.0"/><defs><linearGradient id="gb" x1="0" y1="0" x2="0" y2="1"><stop offset="0" stop-color="#f8d030"/><stop offset="1" stop-color="#e0a818"/></linearGradient><linearGradient id="cl" x1="0" y1="0" x2="0" y2="1"><stop offset="0" stop-color="#ffffff"/><stop offset="1" stop-color="#b8c4d8"/></linearGradient></defs><path d="M79.3,6.8 L83.2,-0.5 L88.2,-0.5 L94.6,6.8 L86.7,12.7 Z" fill="url(#gb)" stroke="#9a6410" stroke-width="1"/><path d="M80.5,7.2 L87,11.4 L93.5,6.6 L92.6,5.6 L86.6,10 L81.2,6.2 Z" fill="#f0e0a0"/><rect x="109" y="0" width="11" height="6.5" fill="#1a90f0" /><rect x="112" y="0" width="1" height="6.5" fill="#a8d8ff" /><rect x="114" y="2" width="4" height="1.2" fill="#e8f4ff" /><path d="M108.6,12.4 C106.3,12.3 106.4,8.3 109.3,8.4 C109.6,6.2 112.2,6 113.5,7 C114.5,4.6 118.2,4.6 119,7.2 C121.6,6.2 123.6,8.6 122.6,10.3 C123.6,11 123.2,12.4 121.6,12.4 Z" fill="url(#cl)" stroke="#465c94" stroke-width="1"/><path d="M142.7,-3 A7.7,7.7 0 0 0 142.7,12.4" fill="none" stroke="#4a78d8" stroke-width="1.3" opacity="0.85"/><path d="M142.7,0 A4.7,4.7 0 0 0 142.7,9.4" fill="none" stroke="#4a78d8" stroke-width="1.2" opacity="0.8"/><path d="M142.7,12.4 A7.7,7.7 0 0 0 142.7,-3" fill="none" stroke="#3a9a50" stroke-width="1.4" opacity="0.85"/><path d="M142.7,9.4 A4.7,4.7 0 0 0 142.7,0" fill="none" stroke="#70b878" stroke-width="1.8" opacity="0.8"/><circle cx="142.7" cy="4.7" r="1.8" fill="#2a58d0"/><rect x="143" y="5" width="1.3" height="7.6" fill="#20a020" /><path d="M162.3,4.4 L177.9,3.6 L170,12.4 Z" fill="#f6e060" stroke="#c89a20" stroke-width="0.9"/><ellipse cx="170" cy="1.6" rx="7.8" ry="3" fill="#48a8e0" stroke="#2080b0" stroke-width="0.8"/><ellipse cx="170" cy="0.8" rx="4.5" ry="1.8" fill="#a8dcf8"/><circle cx="174.4" cy="8.9" r="4.2" fill="#e02810" stroke="#b01808" stroke-width="0.6"/><rect x="173" y="7.5" width="3" height="2.8" fill="#fff" /><rect x="256" y="0" width="1" height="13" fill="#555" /><rect x="254" y="10" width="13" height="1" fill="#555" /><path d="M266,8 L269,10.5 L266,13 Z" fill="#555"/><rect x="262" y="0" width="1" height="9" fill="#109010" /><rect x="263" y="1" width="2" height="1" fill="#109010" /><rect x="260" y="7" width="2" height="1" fill="#109010" /><rect x="284" y="0" width="1" height="13" fill="#555" /><rect x="282" y="10" width="13" height="1" fill="#555" /><path d="M294,8 L297,10.5 L294,13 Z" fill="#555"/><rect x="288" y="0" width="5" height="7" fill="#109010" /><rect x="289" y="0" width="3" height="6" fill="#50e050" /><rect x="290" y="7" width="1" height="2" fill="#109010" /><rect x="312" y="0" width="1" height="13" fill="#555" /><rect x="310" y="10" width="13" height="1" fill="#555" /><path d="M322,8 L325,10.5 L322,13 Z" fill="#555"/><path d="M311,7.5 Q316,0 318,2.5 Q321,5.5 323.5,6" fill="none" stroke="#2a9a2a" stroke-width="1"/><line x1="352" y1="7" x2="357" y2="12" stroke="#b08010" stroke-width="2.6"/><line x1="352" y1="7" x2="357" y2="12" stroke="#e8d040" stroke-width="1.4"/><circle cx="348" cy="2.9" r="5.3" fill="#d8f0fc" stroke="#3a7cc0" stroke-width="1.1"/><rect x="345" y="2" width="7" height="2" fill="#3a80b8" /><rect x="347" y="-1" width="2" height="7" fill="#3a80b8" /><line x1="380" y1="7" x2="385" y2="12" stroke="#b08010" stroke-width="2.6"/><line x1="380" y1="7" x2="385" y2="12" stroke="#e8d040" stroke-width="1.4"/><circle cx="376" cy="2.9" r="5.3" fill="#d8f0fc" stroke="#3a7cc0" stroke-width="1.1"/><rect x="373" y="2" width="7" height="2" fill="#3a80b8" /><rect x="398" y="0" width="7.5" height="7" fill="#28a028" /><rect x="399.5" y="2" width="4.5" height="3.5" fill="#fff" /><rect x="406" y="0" width="7.5" height="7" fill="#2050d0" /><rect x="407.5" y="2" width="4.5" height="3.5" fill="#fff" /><rect x="398" y="5.5" width="7.5" height="7" fill="#2050d0" /><rect x="399.5" y="7.5" width="4.5" height="3.5" fill="#fff" /><rect x="406" y="5.5" width="7.5" height="7" fill="#28a028" /><rect x="407.5" y="7.5" width="4.5" height="3.5" fill="#fff" /><rect x="436" y="0" width="1" height="13" fill="#555" /><rect x="434" y="10" width="13" height="1" fill="#555" /><path d="M446,8.5 L448.5,10.5 L446,12.5 Z" fill="#555"/><path d="M441,1 L445,4.5 L441,8 Z" fill="#40d040" stroke="#109010" stroke-width="0.8"/><rect x="464" y="0" width="1" height="13" fill="#555" /><rect x="462" y="10" width="13" height="1" fill="#555" /><path d="M474,8.5 L476.5,10.5 L474,12.5 Z" fill="#555"/><rect x="470" y="0" width="1" height="9" fill="#1070b0" /><path d="M471,4.5 L475,2 L474,4 L477,4 L477,5 L474,5 L475,7 Z" fill="#e05010"/><path d="M495.5,0 V10.5 H503 V0" fill="#fff" stroke="#777" stroke-width="1"/><path d="M503,3 h4 v4 h4 v4 h-4 v4 h-4 v-4 h-4 v-4 h4 z" fill="#22dd22" stroke="#0a9a0a" stroke-width="0.8"/><path d="M517,4 L522.5,4 L519.75,7 Z" fill="#000"/><path d="M556,4 L561.5,4 L558.75,7 Z" fill="#000"/><path d="M595,4 L600.5,4 L597.75,7 Z" fill="#000"/><path d="M901,4 L906.5,4 L903.75,7 Z" fill="#000"/><circle cx="541" cy="5.2" r="6.6" fill="#fafcff" stroke="#1a6cc8" stroke-width="2.2"/><path d="M540.5,1.5 V5.5 H543.5" fill="none" stroke="#333" stroke-width="0.9"/><rect x="572.5" y="0" width="15" height="11" fill="#fff" stroke="#3a70c0" stroke-width="1"/><rect x="573" y="5.5" width="15" height="1" fill="#3a70c0" /><rect x="573" y="0" width="15" height="1.2" fill="#6a9ae0" /><path d="M574,4 L577,3 L580,3.5 L583,2.5 L586,2.5" fill="none" stroke="#b03010" stroke-width="0.9"/><path d="M574,9 L577,8 L579,8.5 L582,7 L586,9" fill="none" stroke="#20a020" stroke-width="0.9"/><path d="M624.5,0 L624.5,9 L626.5,7.2 L628.4,11.6 L630.2,10.9 L628.5,6.6 L631.6,6.3 Z" fill="#4a4a4a"/><rect x="649" y="5" width="7" height="1" fill="#444" /><rect x="658" y="5" width="7" height="1" fill="#444" /><rect x="656" y="0" width="1" height="5" fill="#444" /><rect x="656" y="7" width="1" height="6" fill="#444" /><rect x="690" y="0" width="1" height="12" fill="#444" /><rect x="713" y="5" width="12" height="1" fill="#444" /><line x1="741" y1="12" x2="753.5" y2="-0.5" stroke="#444" stroke-width="1"/><line x1="767" y1="6.5" x2="774" y2="-0.5" stroke="#444" stroke-width="1"/><line x1="768" y1="11" x2="780" y2="1" stroke="#444" stroke-width="1"/><line x1="772" y1="12" x2="781" y2="4" stroke="#444" stroke-width="1"/><text x="777.5" y="14" font-family="Liberation Sans, sans-serif" font-size="7" font-weight="bold" fill="#444">E</text><rect x="796" y="1" width="1" height="1" fill="#444" /><rect x="798" y="1" width="1" height="1" fill="#444" /><rect x="800" y="1" width="1" height="1" fill="#444" /><rect x="802" y="1" width="1" height="1" fill="#444" /><rect x="804" y="1" width="1" height="1" fill="#444" /><rect x="806" y="1" width="1" height="1" fill="#444" /><rect x="808" y="1" width="1" height="1" fill="#444" /><rect x="796" y="5" width="1" height="1" fill="#444" /><rect x="798" y="5" width="1" height="1" fill="#444" /><rect x="800" y="5" width="1" height="1" fill="#444" /><rect x="802" y="5" width="1" height="1" fill="#444" /><rect x="804" y="5" width="1" height="1" fill="#444" /><rect x="806" y="5" width="1" height="1" fill="#444" /><rect x="808" y="5" width="1" height="1" fill="#444" /><rect x="796" y="9" width="1" height="1" fill="#444" /><rect x="798" y="9" width="1" height="1" fill="#444" /><rect x="800" y="9" width="1" height="1" fill="#444" /><rect x="802" y="9" width="1" height="1" fill="#444" /><rect x="804" y="9" width="1" height="1" fill="#444" /><text x="805.5" y="14" font-family="Liberation Sans, sans-serif" font-size="7" font-weight="bold" fill="#444">F</text><text x="826" y="10" font-family="Liberation Sans, sans-serif" font-size="12" fill="#444">A</text><rect x="853" y="11" width="1" height="1" fill="#444" /><rect x="855" y="11" width="1" height="1" fill="#444" /><rect x="857" y="11" width="1" height="1" fill="#444" /><rect x="859" y="11" width="1" height="1" fill="#444" /><rect x="861" y="11" width="1" height="1" fill="#444" /><rect x="863" y="11" width="1" height="1" fill="#444" /><rect x="865" y="11" width="1" height="1" fill="#444" /><rect x="853" y="1" width="1" height="1" fill="#444" /><rect x="864" y="1" width="1" height="1" fill="#444" /><rect x="853" y="3" width="1" height="1" fill="#444" /><rect x="864" y="3" width="1" height="1" fill="#444" /><rect x="853" y="5" width="1" height="1" fill="#444" /><rect x="864" y="5" width="1" height="1" fill="#444" /><rect x="853" y="7" width="1" height="1" fill="#444" /><rect x="864" y="7" width="1" height="1" fill="#444" /><rect x="853" y="9" width="1" height="1" fill="#444" /><rect x="864" y="9" width="1" height="1" fill="#444" /><rect x="853" y="11" width="1" height="1" fill="#444" /><rect x="864" y="11" width="1" height="1" fill="#444" /><rect x="855" y="2" width="8" height="1.4" fill="#444" /><rect x="858.2" y="2" width="1.6" height="8" fill="#444" /><path d="M880,2.5 L883,0 L886.5,2.5 Z" fill="#555"/><path d="M882.5,6 L884.5,8 L889,3" fill="none" stroke="#444" stroke-width="1.1"/><path d="M887,7.5 L894,7.5 L890.5,11.5 Z" fill="#555"/><text x="927.5" y="8.7" font-family="Liberation Sans, sans-serif" font-size="9.6" fill="#3c3c3c" textLength="13" lengthAdjust="spacingAndGlyphs">M1</text><text x="955.5" y="8.7" font-family="Liberation Sans, sans-serif" font-size="9.6" fill="#3c3c3c" textLength="13" lengthAdjust="spacingAndGlyphs">M5</text><text x="981.5" y="8.7" font-family="Liberation Sans, sans-serif" font-size="9.6" fill="#3c3c3c" textLength="17.5" lengthAdjust="spacingAndGlyphs">M15</text><text x="1009.5" y="8.7" font-family="Liberation Sans, sans-serif" font-size="9.6" fill="#3c3c3c" textLength="18" lengthAdjust="spacingAndGlyphs">M30</text><text x="1040.5" y="8.7" font-family="Liberation Sans, sans-serif" font-size="9.6" fill="#3c3c3c" textLength="12" lengthAdjust="spacingAndGlyphs">H1</text><text x="1067.5" y="8.7" font-family="Liberation Sans, sans-serif" font-size="9.6" fill="#3c3c3c" textLength="12.5" lengthAdjust="spacingAndGlyphs">H4</text><text x="1096.5" y="8.7" font-family="Liberation Sans, sans-serif" font-size="9.6" fill="#3c3c3c" textLength="12" lengthAdjust="spacingAndGlyphs">D1</text><text x="1124.5" y="8.7" font-family="Liberation Sans, sans-serif" font-size="9.6" fill="#3c3c3c" textLength="14" lengthAdjust="spacingAndGlyphs">W1</text><text x="1150.5" y="8.7" font-family="Liberation Sans, sans-serif" font-size="9.6" fill="#3c3c3c" textLength="14.5" lengthAdjust="spacingAndGlyphs">MN</text><line x1="1635.6" y1="10" x2="1641" y2="5.2" stroke="#1a5cc8" stroke-width="2.4"/><circle cx="1643.8" cy="2.6" r="3.6" fill="#f4f8ff" stroke="#2a6ad8" stroke-width="1.2"/><path d="M1663,12.5 L1664,10.5 C1659,9.5 1659.5,3 1665,2.6 L1670,2.6 C1675,3 1675,10 1670,10.5 L1666,10.5 Z" fill="#e4e6ee" stroke="#b0b0b0" stroke-width="0.8"/><circle cx="1674.6" cy="2.5" r="8.1" fill="#e03418"/><rect x="1673.6" y="-1" width="1.4" height="6.4" fill="#fff" /><rect x="1671.3" y="5.4" width="5.6" height="1.2" fill="#fff" /></g>
</svg></body></html>
